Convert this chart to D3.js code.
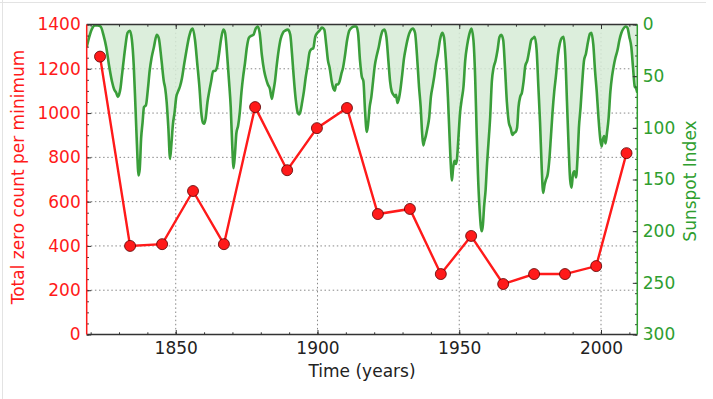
<!DOCTYPE html>
<html>
<head>
<meta charset="utf-8">
<script src="https://cdn.jsdelivr.net/npm/d3@7"></script>
<style>
  html, body { margin: 0; padding: 0; background: #fff; }
  svg { display: block; font-family: "DejaVu Sans", sans-serif; }
</style>
</head>
<body>
<svg id="chart" width="713" height="399"></svg>
<script>
// ---------- DATA ----------
const zeroYears = [1823.3, 1833.9, 1845.2, 1856.1, 1867.0, 1878.0, 1889.3, 1899.8, 1910.4,
  1921.3, 1932.6, 1943.5, 1954.2, 1965.5, 1976.4, 1987.3, 1998.3, 2009.0];
const zeroCounts = [1255, 400, 408, 648, 408, 1027, 742, 932, 1023,
  544, 567, 273, 445, 228, 273, 273, 309, 819];

const sunspotYears = [
  1818.6, 1819.5, 1820.5, 1821.5, 1822.5, 1823.5, 1824.5, 1825.5, 1826.5, 1827.5, 1828.3, 1829.0, 1829.6, 1830.0, 1830.5, 1831.0, 1831.5, 1832.2, 1833.0, 1833.8,
  1834.5, 1835.2, 1835.8, 1836.3, 1836.9, 1837.3, 1837.8, 1838.3, 1838.8, 1839.5, 1840.2, 1840.8, 1841.5, 1842.3, 1843.3,
  1844.0, 1845.0, 1845.8, 1846.3, 1846.8, 1847.4, 1848.0, 1848.5, 1849.0, 1849.6, 1850.2, 1850.8, 1851.5, 1852.2, 1853.0, 1853.8, 1854.7, 1855.5, 1856.0,
  1856.8, 1857.6, 1858.4, 1859.0, 1859.6, 1860.1, 1860.6, 1861.2, 1861.8, 1862.5, 1863.2, 1863.8, 1864.5, 1865.2, 1866.0, 1866.8, 1867.4,
  1868.2, 1868.8, 1869.4, 1869.9, 1870.4, 1870.9, 1871.4, 1872.0, 1872.6, 1873.2, 1873.8, 1874.4, 1875.1, 1875.8, 1876.6, 1877.4, 1878.2, 1878.9,
  1879.6, 1880.4, 1881.2, 1881.8, 1882.5, 1883.2, 1883.9, 1884.4, 1885.0, 1885.6, 1886.3, 1887.0, 1887.8, 1888.6, 1889.6,
  1890.4, 1891.0, 1891.6, 1892.3, 1893.0, 1893.5, 1894.0, 1894.6, 1895.2, 1895.8, 1896.5, 1897.2, 1897.8, 1898.5, 1899.2, 1900.0, 1900.7, 1901.6,
  1902.4, 1903.1, 1903.7, 1904.3, 1905.0, 1905.6, 1906.1, 1906.6, 1907.2, 1907.8, 1908.4, 1909.0, 1909.7, 1910.4, 1911.2, 1912.1, 1913.0, 1913.7,
  1914.3, 1915.0, 1915.6, 1916.2, 1916.8, 1917.4, 1917.9, 1918.4, 1919.0, 1919.6, 1920.2, 1920.9, 1921.6, 1922.3, 1923.0, 1923.6,
  1924.3, 1925.0, 1925.6, 1926.2, 1926.8, 1927.3, 1927.7, 1928.2, 1928.7, 1929.3, 1929.9, 1930.5, 1931.2, 1932.0, 1932.8, 1933.6,
  1934.4, 1935.1, 1935.8, 1936.4, 1936.9, 1937.3, 1937.7, 1938.2, 1938.8, 1939.4, 1940.0, 1940.6, 1941.2, 1941.8, 1942.5, 1943.2, 1944.0,
  1944.6, 1945.3, 1946.0, 1946.6, 1947.1, 1947.4, 1947.8, 1948.3, 1948.8, 1949.2, 1949.7, 1950.3, 1950.9, 1951.5, 1952.1, 1952.8, 1953.5, 1954.3,
  1955.0, 1955.6, 1956.1, 1956.6, 1957.2, 1957.9, 1958.3, 1958.8, 1959.3, 1959.8, 1960.3, 1960.9, 1961.5, 1962.1, 1962.8, 1963.5, 1964.2, 1964.8,
  1965.5, 1966.1, 1966.8, 1967.5, 1968.1, 1968.8, 1969.3, 1969.9, 1970.4, 1970.9, 1971.5, 1972.1, 1972.7, 1973.3, 1974.0, 1974.7, 1975.4, 1976.1, 1976.6,
  1977.3, 1977.9, 1978.5, 1979.1, 1979.6, 1980.1, 1980.6, 1981.2, 1981.8, 1982.3, 1982.9, 1983.5, 1984.1, 1984.8, 1985.5, 1986.2, 1986.8,
  1987.4, 1988.0, 1988.6, 1989.1, 1989.6, 1990.1, 1990.6, 1991.2, 1991.7, 1992.2, 1992.8, 1993.4, 1994.0, 1994.7, 1995.4, 1996.1, 1996.6,
  1997.3, 1997.9, 1998.5, 1999.1, 1999.7, 2000.2, 2000.6, 2001.1, 2001.6, 2002.1, 2002.7, 2003.3, 2003.9, 2004.5, 2005.1, 2005.8, 2006.5, 2007.2, 2007.9, 2008.6,
  2009.3, 2010.0, 2010.7, 2011.3, 2011.9, 2012.4, 2012.8
];
const sunspotValues = [
  22, 12, 4, 1, 1, 2, 10, 22, 40, 55, 63, 66, 70, 68, 62, 50, 38, 22, 8, 6,
  14, 40, 80, 115, 146, 140, 110, 95, 80, 78, 62, 45, 32, 22, 10,
  13, 35, 55, 62, 75, 100, 130, 115, 97, 85, 70, 65, 60, 52, 38, 25, 12, 5, 4,
  15, 38, 62, 85, 95, 96, 90, 75, 65, 55, 45, 45, 42, 30, 14, 5, 8,
  32, 55, 80, 115, 139, 125, 105, 98, 85, 65, 50, 38, 22, 13, 11, 10, 4, 2,
  8, 30, 45, 52, 58, 62, 72, 65, 55, 40, 25, 14, 8, 6, 5,
  10, 28, 50, 72, 85, 87, 84, 75, 65, 52, 40, 27, 24, 23, 12, 8, 6, 3,
  5, 20, 35, 42, 55, 62, 64, 58, 58, 55, 48, 42, 30, 16, 6, 3, 2, 2,
  8, 35, 50, 55, 85, 104, 95, 80, 70, 55, 40, 30, 22, 12, 6, 5,
  12, 35, 55, 65, 68, 70, 68, 76, 72, 62, 48, 33, 22, 12, 6, 4,
  8, 30, 60, 80, 105, 117, 113, 108, 100, 90, 70, 60, 50, 38, 28, 15, 8,
  12, 35, 70, 110, 140, 151, 140, 132, 135, 130, 110, 85, 72, 60, 35, 20, 10, 4,
  15, 50, 100, 145, 180, 200, 195, 175, 160, 135, 115, 90, 55, 42, 35, 25, 12, 10,
  15, 40, 75, 95, 100, 107, 105, 104, 100, 80, 70, 66, 55, 40, 35, 25, 15, 13, 12,
  25, 60, 95, 140, 163, 155, 150, 145, 130, 110, 85, 65, 50, 30, 18, 13, 12,
  30, 75, 120, 150, 158, 145, 142, 148, 130, 100, 80, 55, 35, 28, 17, 9, 8,
  20, 45, 65, 90, 110, 118, 112, 108, 115, 105, 90, 65, 50, 40, 32, 25, 15, 8, 4, 2,
  3, 12, 22, 42, 60, 62, 66
];

const leftTicks = [0, 200, 400, 600, 800, 1000, 1200, 1400];
const rightTicks = [0, 50, 100, 150, 200, 250, 300];
const xTicks = [1850, 1900, 1950, 2000];

// ---------- LAYOUT ----------
const svg = d3.select("#chart");
const L = 86.7, R = 637.3, T = 24.5, B = 334.5;
const RED = "#ff1a1a", GREEN = "#2f9e2f", GREEN_LINE = "#3a9e3a", FILL = "#d6ebd6";

const x = d3.scaleLinear().domain([1818.6, 2012.8]).range([L, R]);
const yL = d3.scaleLinear().domain([0, 1400]).range([B, T]);
const yR = d3.scaleLinear().domain([0, 300]).range([T, B]);

// faint frame lines of the screenshot
svg.append("line").attr("x1", 2.5).attr("x2", 2.5).attr("y1", 0).attr("y2", 399)
  .attr("stroke", "#e3e3e3").attr("stroke-width", 1);
svg.append("line").attr("x1", 0).attr("x2", 706).attr("y1", 2.5).attr("y2", 2.5)
  .attr("stroke", "#e3e3e3").attr("stroke-width", 1);

svg.append("defs").append("clipPath").attr("id", "clip")
  .append("rect").attr("x", L).attr("y", T).attr("width", R - L).attr("height", B - T);

// grid
const grid = svg.append("g").attr("stroke", "#888").attr("stroke-width", 1)
  .attr("stroke-dasharray", "1.5,2.6");
leftTicks.filter(v => v > 0 && v < 1400).forEach(v => {
  grid.append("line").attr("x1", L).attr("x2", R).attr("y1", yL(v)).attr("y2", yL(v));
});
xTicks.forEach(v => {
  grid.append("line").attr("x1", x(v)).attr("x2", x(v)).attr("y1", T).attr("y2", B);
});

const plot = svg.append("g").attr("clip-path", "url(#clip)");

// red line + markers
const zeroData = zeroYears.map((yr, i) => ({ yr, v: zeroCounts[i] }));
plot.append("path").datum(zeroData)
  .attr("fill", "none").attr("stroke", RED).attr("stroke-width", 2.4)
  .attr("d", d3.line().x(d => x(d.yr)).y(d => yL(d.v)));

// sunspot fill + line
const ssData = sunspotYears.map((yr, i) => ({ yr, v: sunspotValues[i] }));
plot.append("path").datum(ssData)
  .attr("fill", FILL).attr("fill-opacity", 0.85)
  .attr("d", d3.area().curve(d3.curveMonotoneX).x(d => x(d.yr)).y0(yR(0)).y1(d => yR(d.v)));
plot.append("path").datum(ssData)
  .attr("fill", "none").attr("stroke", GREEN_LINE).attr("stroke-width", 2.6)
  .attr("stroke-linejoin", "round")
  .attr("d", d3.line().curve(d3.curveMonotoneX).x(d => x(d.yr)).y(d => yR(d.v)));

svg.append("g").selectAll("circle").data(zeroData).join("circle")
  .attr("cx", d => x(d.yr)).attr("cy", d => yL(d.v)).attr("r", 5.5)
  .attr("fill", RED).attr("stroke", "#5a0000").attr("stroke-width", 0.8);

// ---------- AXES ----------
const fontSize = 17;
function styleAxis(g, color, tickColor) {
  g.select(".domain").remove();
  g.selectAll(".tick line").attr("stroke", tickColor).attr("stroke-width", 1);
  g.selectAll(".tick text").attr("fill", color).attr("font-size", fontSize)
    .attr("font-family", "DejaVu Sans, sans-serif");
}

// left minor + major
const leftMinor = d3.range(0, 1401, 50);
svg.append("g").attr("transform", `translate(${L},0)`)
  .call(d3.axisLeft(yL).tickValues(leftMinor).tickSize(-2.2).tickFormat(""))
  .call(g => styleAxis(g, RED, "#333"));
svg.append("g").attr("transform", `translate(${L},0)`)
  .call(d3.axisLeft(yL).tickValues(leftTicks).tickSize(-4.5).tickPadding(6).tickFormat(d3.format("d")))
  .call(g => styleAxis(g, RED, "#333"));

// right minor + major
const rightMinor = d3.range(0, 301, 10);
svg.append("g").attr("transform", `translate(${R},0)`)
  .call(d3.axisRight(yR).tickValues(rightMinor).tickSize(-2.2).tickFormat(""))
  .call(g => styleAxis(g, GREEN, "#333"));
svg.append("g").attr("transform", `translate(${R},0)`)
  .call(d3.axisRight(yR).tickValues(rightTicks).tickSize(-4.5).tickPadding(5.5).tickFormat(d3.format("d")))
  .call(g => styleAxis(g, GREEN, "#333"));

// bottom + top
const xMinor = d3.range(1820, 2013, 10);
svg.append("g").attr("transform", `translate(0,${B})`)
  .call(d3.axisBottom(x).tickValues(xMinor).tickSize(-2.2).tickFormat(""))
  .call(g => styleAxis(g, "#222", "#333"));
svg.append("g").attr("transform", `translate(0,${B})`)
  .call(d3.axisBottom(x).tickValues(xTicks).tickSize(-4.5).tickPadding(7.5).tickFormat(d3.format("d")))
  .call(g => styleAxis(g, "#222", "#333"));
svg.append("g").attr("transform", `translate(0,${T})`)
  .call(d3.axisTop(x).tickValues(xMinor).tickSize(-2.2).tickFormat(""))
  .call(g => styleAxis(g, "#222", "#333"));
svg.append("g").attr("transform", `translate(0,${T})`)
  .call(d3.axisTop(x).tickValues(xTicks).tickSize(-4.5).tickFormat(""))
  .call(g => styleAxis(g, "#222", "#333"));

// spines
svg.append("line").attr("x1", L).attr("x2", R).attr("y1", T).attr("y2", T)
  .attr("stroke", "#333").attr("stroke-width", 1.5);
svg.append("line").attr("x1", L).attr("x2", R).attr("y1", B).attr("y2", B)
  .attr("stroke", "#333").attr("stroke-width", 1.5);
svg.append("line").attr("x1", L).attr("x2", L).attr("y1", T).attr("y2", B)
  .attr("stroke", RED).attr("stroke-width", 1.5);
svg.append("line").attr("x1", R).attr("x2", R).attr("y1", T).attr("y2", B)
  .attr("stroke", GREEN).attr("stroke-width", 1.5);

// axis titles
svg.append("text").attr("transform", `translate(18.3,177) rotate(-90)`)
  .attr("text-anchor", "middle").attr("dy", "0.35em")
  .attr("font-size", fontSize).attr("fill", RED)
  .text("Total zero count per minimum");
svg.append("text").attr("transform", `translate(690,181) rotate(-90)`)
  .attr("text-anchor", "middle").attr("dy", "0.35em")
  .attr("font-size", fontSize).attr("fill", GREEN)
  .text("Sunspot Index");
svg.append("text").attr("x", (L + R) / 2).attr("y", 377)
  .attr("text-anchor", "middle")
  .attr("font-size", fontSize).attr("fill", "#222")
  .text("Time (years)");
</script>
</body>
</html>
